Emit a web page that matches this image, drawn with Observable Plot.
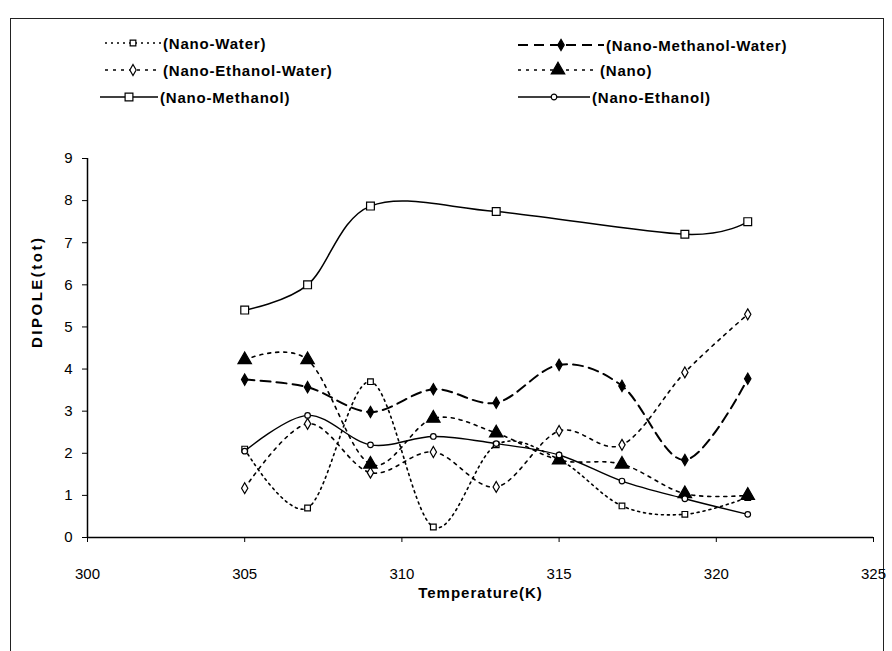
<!DOCTYPE html>
<html><head><meta charset="utf-8">
<script src="https://cdn.jsdelivr.net/npm/d3@7"></script>
<script src="https://cdn.jsdelivr.net/npm/@observablehq/plot@0.6"></script>
<style>
body{margin:0;background:#fff;}
#wrap{position:relative;width:892px;height:651px;overflow:hidden;font-family:"Liberation Sans",Arial,sans-serif;background:#fff;}
#frame{position:absolute;left:10px;top:18px;width:872px;height:640px;border-left:1.5px solid #222;border-top:1.5px solid #222;border-right:1.5px solid #222;}
#chart{position:absolute;left:0;top:0;}
.leg{position:absolute;display:flex;align-items:center;font-weight:bold;font-size:15px;letter-spacing:0.8px;color:#000;white-space:nowrap;}
.leg svg{margin-right:2px;}
</style></head><body><div id="wrap"><div id="frame"></div><div id="chart"></div></div>
<script>
// ---- data ----
const temps = [305, 307, 309, 311, 313, 315, 317, 319, 321];
const nanoWater = [2.1, 0.7, 3.7, 0.25, 2.2, 1.85, 0.75, 0.55, 0.95];
const nanoMethanolWater = [3.75, 3.57, 2.98, 3.52, 3.2, 4.1, 3.6, 1.84, 3.77];
const nanoEthanolWater = [1.17, 2.7, 1.54, 2.03, 1.2, 2.53, 2.2, 3.92, 5.3];
const nano = [4.22, 4.22, 1.74, 2.83, 2.48, 1.84, 1.74, 1.04, 1.0];
const methanolTemps = [305, 307, 309, 313, 319, 321];
const nanoMethanol = [5.4, 6.0, 7.87, 7.74, 7.2, 7.5];
const nanoEthanol = [2.05, 2.9, 2.2, 2.4, 2.23, 1.96, 1.34, 0.92, 0.55];
const xTicks = [300, 305, 310, 315, 320, 325];
const yTicks = [0, 1, 2, 3, 4, 5, 6, 7, 8, 9];
const seriesNames = ["(Nano-Water)", "(Nano-Methanol-Water)", "(Nano-Ethanol-Water)", "(Nano)", "(Nano-Methanol)", "(Nano-Ethanol)"];

// ---- styles ----
const styles = [
  {name: seriesNames[0], t: temps, v: nanoWater, dash: "2,4", sw: 1.6, symbol: "square", fill: "white", r: 3.2},
  {name: seriesNames[1], t: temps, v: nanoMethanolWater, dash: "10,6", sw: 2, symbol: "diamond", fill: "black", r: 3.4},
  {name: seriesNames[2], t: temps, v: nanoEthanolWater, dash: "3,5", sw: 1.6, symbol: "diamond", fill: "white", r: 3.3},
  {name: seriesNames[3], t: temps, v: nano, dash: "3,5", sw: 1.6, symbol: "triangle", fill: "black", r: 5},
  {name: seriesNames[4], t: methanolTemps, v: nanoMethanol, dash: null, sw: 1.5, symbol: "square", fill: "white", r: 4.4},
  {name: seriesNames[5], t: temps, v: nanoEthanol, dash: null, sw: 1.4, symbol: "circle", fill: "white", r: 2.8}
];

const marks = [];
for (const s of styles) {
  const data = s.t.map((t, i) => ({t, v: s.v[i], name: s.name}));
  marks.push(Plot.line(data, {x: "t", y: "v", curve: "cardinal", stroke: "black", strokeWidth: s.sw, strokeDasharray: s.dash}));
}
for (const s of styles) {
  const data = s.t.map((t, i) => ({t, v: s.v[i], name: s.name}));
  marks.push(Plot.dot(data, {x: "t", y: "v", symbol: s.symbol, r: s.r, fill: s.fill, stroke: "black", strokeWidth: 1.2}));
}

const chart = Plot.plot({
  width: 892, height: 651,
  marginLeft: 87, marginRight: 19, marginTop: 158, marginBottom: 114,
  style: {fontFamily: "Liberation Sans, Arial, sans-serif", fontSize: "15px", color: "black", background: "transparent"},
  x: {domain: [300, 325]},
  y: {domain: [0, 9]},
  marks: [
    Plot.axisX({ticks: xTicks, tickSize: 5, tickPadding: 26, tickFormat: d => String(d), label: null, fontSize: 15}),
    Plot.axisY({ticks: yTicks, tickSize: 5, tickPadding: 10, label: null, fontSize: 15}),
    Plot.ruleY([0], {stroke: "black", strokeWidth: 1.5}),
    Plot.ruleX([300], {stroke: "black", strokeWidth: 1.5}),
    ...marks,
    Plot.text(["Temperature(K)"], {frameAnchor: "bottom", dy: 60, fontWeight: "bold", fontSize: 15, style: "letter-spacing:1px"}),
    Plot.text(["DIPOLE(tot)"], {frameAnchor: "left", dx: -50, rotate: -90, fontWeight: "bold", fontSize: 15})
  ]
});
document.getElementById("chart").appendChild(chart);
// letter spacing for axis titles
d3.select(chart).selectAll("text").filter(function() { return /Temperature|DIPOLE/.test(this.textContent); })
  .style("letter-spacing", function() { return /DIPOLE/.test(this.textContent) ? "2.5px" : "1px"; });

// ---- legend ----
const legPos = [
  {x: 105, y: 43}, {x: 518, y: 45},
  {x: 105, y: 70}, {x: 518, y: 70},
  {x: 100, y: 97}, {x: 518, y: 97}
];
const swW = [56, 86, 56, 80, 58, 72];
function symbolPath(sym, r) {
  const map = {square: d3.symbolSquare, diamond: d3.symbolDiamond, triangle: d3.symbolTriangle, circle: d3.symbolCircle};
  return d3.symbol(map[sym], Math.PI * r * r)();
}
styles.forEach((s, i) => {
  const w = swW[i];
  const div = document.createElement("div");
  div.className = "leg";
  div.style.left = legPos[i].x + "px";
  div.style.top = (legPos[i].y - 9) + "px";
  const svg = d3.create("svg").attr("width", w).attr("height", 18);
  svg.append("line").attr("x1", 0).attr("x2", w).attr("y1", 9).attr("y2", 9)
    .attr("stroke", "black").attr("stroke-width", s.sw).attr("stroke-dasharray", s.dash);
  svg.append("path").attr("d", symbolPath(s.symbol, s.r)).attr("transform", `translate(${w / 2},9)`)
    .attr("fill", s.fill).attr("stroke", "black").attr("stroke-width", 1.2);
  div.appendChild(svg.node());
  const span = document.createElement("span");
  span.textContent = s.name;
  div.appendChild(span);
  document.getElementById("wrap").appendChild(div);
});
</script></body></html>
